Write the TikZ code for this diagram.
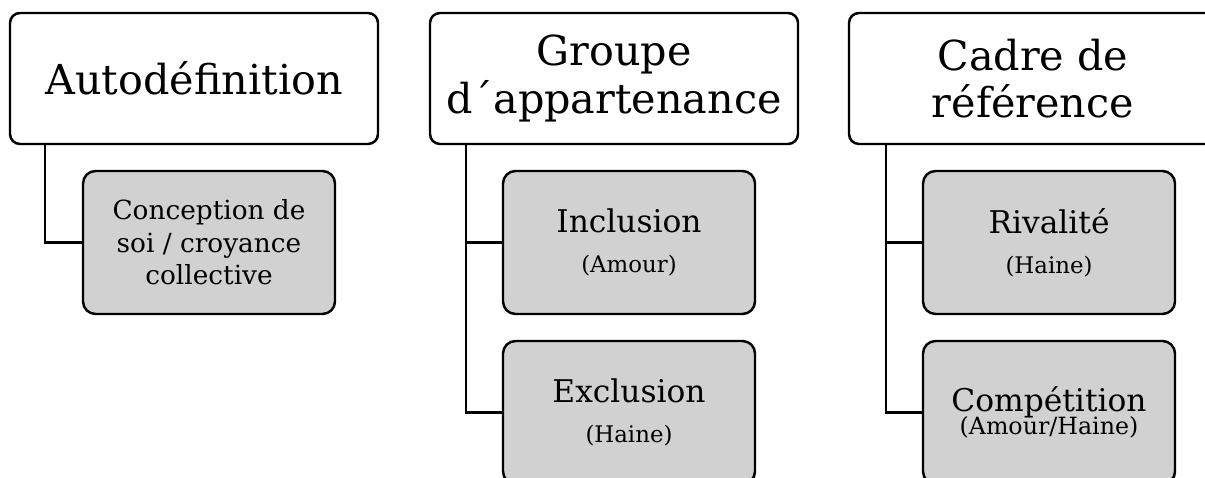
\documentclass[tikz,border=0pt]{standalone}
\usepackage{fontspec}
\setmainfont{DejaVu Serif}
\begin{document}
\begin{tikzpicture}[
        head/.style={draw=black,rectangle,rounded corners=2mm,line width=1.4pt,fill=white,minimum width=7.36cm,minimum height=2.62cm,inner sep=0pt,align=center,font=\fontsize{23.5}{27}\selectfont},
        sub/.style={draw=black,rectangle,rounded corners=2.5mm,line width=1.4pt,fill=black!18,minimum width=5.04cm,minimum height=2.86cm,inner sep=0pt,align=center,font=\fontsize{17.8}{20}\selectfont},
        link/.style={draw=black,line width=1.3pt}
      ]
      \path[use as bounding box,clip] (0,0) rectangle (24.1,-9.56);
      \node[head] (auto) at (3.88,-1.57) {Autodéfinition};
      \node[head] (groupe) at (12.28,-1.57) {Groupe\\d´appartenance};
      \node[head] (cadre) at (20.66,-1.57) {Cadre de\\référence};
      \node[sub,font=\fontsize{15}{18.4}\selectfont] (soi) at (4.18,-4.85) {Conception de\\soi / croyance\\collective};
      \node[sub] (incl) at (12.58,-4.85) {Inclusion\\[3pt]{\fontsize{13}{15}\selectfont (Amour)}};
      \node[sub] (excl) at (12.58,-8.25) {Exclusion\\[3pt]{\fontsize{13}{15}\selectfont (Haine)}};
      \node[sub] (riv) at (20.98,-4.85) {Rivalité\\[3pt]{\fontsize{13}{15}\selectfont (Haine)}};
      \node[sub] (comp) at (20.98,-8.25) {Compétition\\[-7pt]{\fontsize{13.5}{15}\selectfont (Amour/Haine)}};
      \draw[link] ([xshift=0.72cm]auto.south west) |- (soi.west);
      \draw[link] ([xshift=0.74cm]groupe.south west) |- (incl.west);
      \draw[link] ([xshift=0.74cm]groupe.south west) |- (excl.west);
      \draw[link] ([xshift=0.76cm]cadre.south west) |- (riv.west);
      \draw[link] ([xshift=0.76cm]cadre.south west) |- (comp.west);
    \end{tikzpicture}
\end{document}
